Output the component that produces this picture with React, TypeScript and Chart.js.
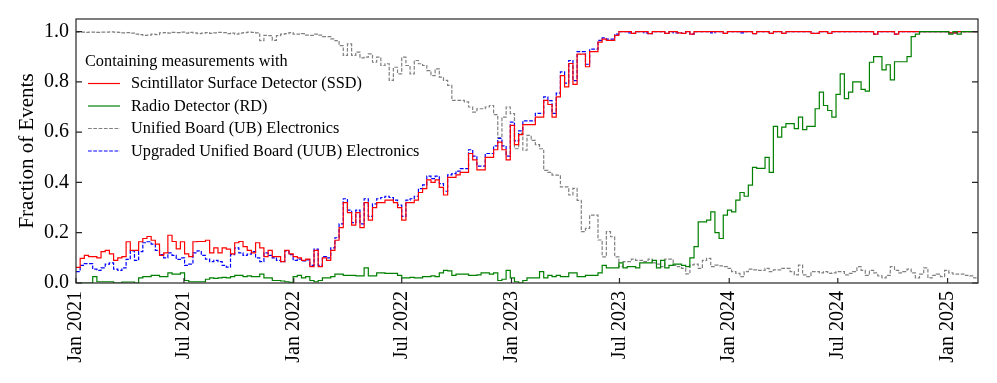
import React, { useEffect, useRef } from 'react';
import { Chart, registerables } from 'chart.js';

Chart.register(...registerables);

const START_DATE = '2021-01-01';
const BIN_DAYS = 7;

const tickDates = ['2021-01-01', '2021-07-01', '2022-01-01', '2022-07-01', '2023-01-01', '2023-07-01', '2024-01-01', '2024-07-01', '2025-01-01'];
const tickLabels = ['Jan 2021', 'Jul 2021', 'Jan 2022', 'Jul 2022', 'Jan 2023', 'Jul 2023', 'Jan 2024', 'Jul 2024', 'Jan 2025'];
const yTicks = [0, 0.2, 0.4, 0.6, 0.8, 1.0];

const legendTitle = 'Containing measurements with';
const seriesNames = [
  'Scintillator Surface Detector (SSD)',
  'Radio Detector (RD)',
  'Unified Board (UB) Electronics',
  'Upgraded Unified Board (UUB) Electronics',
];

// weekly fractions, one value per bin
const ssd = [
  0.062, 0.098, 0.11, 0.105, 0.105, 0.10, 0.125, 0.13, 0.116, 0.09,
  0.10, 0.105, 0.164, 0.13, 0.13, 0.164, 0.177, 0.185, 0.17, 0.155,
  0.11, 0.12, 0.19, 0.165, 0.136, 0.164, 0.116, 0.105, 0.164, 0.165,
  0.165, 0.17, 0.12, 0.14, 0.12, 0.14, 0.135, 0.116, 0.16, 0.165,
  0.145, 0.13, 0.12, 0.16, 0.14, 0.105, 0.13, 0.105, 0.105, 0.085,
  0.13, 0.116, 0.105, 0.10, 0.09, 0.095, 0.065, 0.13, 0.065, 0.10,
  0.09, 0.13, 0.17, 0.22, 0.32, 0.28, 0.23, 0.28, 0.22, 0.32,
  0.25, 0.30, 0.32, 0.32, 0.33, 0.33, 0.32, 0.30, 0.25, 0.32,
  0.32, 0.33, 0.36, 0.375, 0.41, 0.40, 0.41, 0.38, 0.35, 0.42,
  0.42, 0.43, 0.44, 0.44, 0.515, 0.49, 0.45, 0.45, 0.50, 0.50,
  0.53, 0.56, 0.53, 0.49, 0.627, 0.55, 0.59, 0.63, 0.63, 0.63,
  0.66, 0.66, 0.726, 0.71, 0.66, 0.74, 0.825, 0.78, 0.873, 0.79,
  0.91, 0.91, 0.86, 0.92, 0.92, 0.958, 0.97, 0.965, 0.965, 0.985,
  1.0, 1.0, 1.0, 0.993, 1.0, 1.0, 1.0, 0.992, 1.0, 1.0,
  1.0, 0.993, 1.0, 1.0, 0.995, 0.993, 1.0, 0.99, 1.0, 1.0,
  1.0, 1.0, 1.0, 1.0, 1.0, 0.993, 1.0, 1.0, 1.0, 1.0,
  1.0, 1.0, 0.992, 1.0, 1.0, 1.0, 0.993, 1.0, 1.0, 0.993,
  1.0, 1.0, 1.0, 1.0, 1.0, 1.0, 0.993, 0.993, 1.0, 1.0,
  0.993, 1.0, 1.0, 1.0, 1.0, 1.0, 1.0, 1.0, 1.0, 1.0,
  1.0, 0.99, 1.0, 1.0, 1.0, 1.0, 0.99, 1.0, 1.0, 1.0,
  1.0, 1.0, 1.0, 1.0, 1.0, 1.0, 1.0, 1.0, 1.0, 0.995,
  0.995, 1.0, 1.0, 1.0, 1.0, 1.0,
];

const rd = [
  0, 0, 0, 0, 0.025, 0.005, 0.005, 0.005, 0.005, 0,
  0, 0.004, 0.004, 0.004, 0, 0.02, 0.025, 0.025, 0.03, 0.03,
  0.025, 0.025, 0.04, 0.035, 0.035, 0.04, 0.01, 0.005, 0.005, 0.005,
  0.005, 0.015, 0.02, 0.018, 0.02, 0.022, 0.02, 0.025, 0.03, 0.03,
  0.025, 0.028, 0.025, 0.025, 0.035, 0.02, 0.02, 0.01, 0.01, 0.008,
  0.005, 0.003, 0.025, 0.03, 0.02, 0.025, 0.01, 0.005, 0.01, 0.02,
  0.02, 0.025, 0.035, 0.035, 0.03, 0.03, 0.03, 0.028, 0.028, 0.06,
  0.028, 0.028, 0.04, 0.04, 0.038, 0.038, 0.038, 0.03, 0.02, 0.02,
  0.022, 0.02, 0.02, 0.025, 0.025, 0.028, 0.025, 0.04, 0.05, 0.048,
  0.03, 0.035, 0.035, 0.035, 0.03, 0.03, 0.032, 0.04, 0.04, 0.035,
  0.04, 0.01, 0.015, 0.05, 0.02, 0.005, 0.0, 0.01, 0.02, 0.02,
  0.02, 0.045, 0.02, 0.03, 0.025, 0.03, 0.025, 0.025, 0.04, 0.04,
  0.025, 0.025, 0.03, 0.03, 0.03, 0.04, 0.07, 0.06, 0.06, 0.06,
  0.08, 0.06, 0.065, 0.065, 0.06, 0.08, 0.08, 0.08, 0.09, 0.06,
  0.09, 0.06, 0.07, 0.075, 0.075, 0.07, 0.065, 0.10, 0.145, 0.243,
  0.243, 0.25, 0.283, 0.20, 0.177, 0.27, 0.29, 0.283, 0.33, 0.36,
  0.345, 0.389, 0.46, 0.456, 0.456, 0.50, 0.44, 0.623, 0.58, 0.62,
  0.634, 0.634, 0.614, 0.66, 0.61, 0.623, 0.623, 0.693, 0.759, 0.706,
  0.686, 0.66, 0.75, 0.832, 0.733, 0.759, 0.80, 0.80, 0.77, 0.763,
  0.878, 0.90, 0.90, 0.848, 0.868, 0.808, 0.88, 0.88, 0.88, 0.90,
  0.98, 0.99, 1.0, 1.0, 1.0, 1.0, 1.0, 1.0, 1.0, 0.99,
  1.0, 0.99, 1.0, 1.0, 1.0, 1.0,
];

const ub = [
  0.998, 0.998, 0.997, 0.998, 0.998, 0.997, 0.998, 0.998, 0.999, 0.998,
  0.997, 0.995, 0.996, 0.994, 0.99, 0.988, 0.985, 0.986, 0.99, 0.988,
  0.995, 0.996, 0.994, 0.997, 0.996, 0.998, 0.994, 0.997, 0.995, 0.992,
  0.994, 0.996, 0.993, 0.995, 0.997, 0.996, 0.992, 0.994, 0.99, 0.994,
  0.996, 0.998, 0.997, 0.995, 0.964, 0.985, 0.984, 0.965, 0.984, 0.99,
  0.992, 0.996, 0.99, 0.99, 0.992, 0.986, 0.985, 0.99, 0.986, 0.98,
  0.98, 0.971, 0.964, 0.944, 0.905, 0.951, 0.905, 0.918, 0.895, 0.898,
  0.911, 0.878, 0.898, 0.865, 0.872, 0.806, 0.858, 0.832, 0.898, 0.865,
  0.832, 0.885, 0.872, 0.865, 0.845, 0.825, 0.852, 0.819, 0.806, 0.786,
  0.726, 0.726, 0.726, 0.72, 0.70, 0.68, 0.693, 0.693, 0.70, 0.706,
  0.67, 0.578, 0.66, 0.70, 0.674, 0.534, 0.595, 0.528, 0.587, 0.567,
  0.55, 0.534, 0.448, 0.44, 0.429, 0.429, 0.382, 0.382, 0.35, 0.376,
  0.329, 0.204, 0.217, 0.27, 0.27, 0.171, 0.104, 0.204, 0.184, 0.104,
  0.065, 0.085, 0.085, 0.095, 0.09, 0.09, 0.085, 0.095, 0.08, 0.075,
  0.065, 0.095, 0.095, 0.07, 0.065, 0.058, 0.036, 0.072, 0.075, 0.058,
  0.09, 0.098, 0.065, 0.071, 0.068, 0.065, 0.058, 0.045, 0.038, 0.025,
  0.045, 0.055, 0.052, 0.05, 0.05, 0.058, 0.045, 0.052, 0.052, 0.058,
  0.058, 0.045, 0.032, 0.071, 0.032, 0.025, 0.045, 0.045, 0.04, 0.045,
  0.038, 0.04, 0.045, 0.045, 0.032, 0.038, 0.045, 0.065, 0.05, 0.03,
  0.05, 0.04, 0.028, 0.02, 0.03, 0.065, 0.05, 0.04, 0.045, 0.055,
  0.04, 0.02, 0.035, 0.06, 0.02, 0.03, 0.035, 0.025, 0.05, 0.04,
  0.035, 0.035, 0.035, 0.03, 0.028, 0.02,
];

const uub = [
  0.045, 0.07, 0.077, 0.077, 0.055, 0.05, 0.06, 0.075, 0.08, 0.055,
  0.05, 0.06, 0.094, 0.128, 0.09, 0.125, 0.16, 0.164, 0.155, 0.13,
  0.113, 0.10, 0.12, 0.11, 0.094, 0.10, 0.07, 0.075, 0.12, 0.128,
  0.11, 0.095, 0.085, 0.09, 0.085, 0.07, 0.063, 0.113, 0.14, 0.12,
  0.11, 0.115, 0.125, 0.10, 0.085, 0.12, 0.11, 0.10, 0.09, 0.085,
  0.128, 0.113, 0.09, 0.095, 0.088, 0.092, 0.07, 0.135, 0.07, 0.105,
  0.10, 0.14, 0.18, 0.235, 0.335, 0.29, 0.24, 0.29, 0.235, 0.335,
  0.265, 0.315, 0.335, 0.34, 0.345, 0.34, 0.33, 0.31, 0.265, 0.33,
  0.335, 0.345, 0.375, 0.39, 0.425, 0.415, 0.425, 0.395, 0.365, 0.43,
  0.435, 0.445, 0.455, 0.455, 0.53, 0.505, 0.465, 0.465, 0.515, 0.515,
  0.545, 0.575, 0.545, 0.505, 0.64, 0.565, 0.605, 0.645, 0.645, 0.645,
  0.675, 0.675, 0.74, 0.725, 0.675, 0.755, 0.84, 0.795, 0.885, 0.805,
  0.92, 0.92, 0.87, 0.93, 0.93, 0.965, 0.975, 0.97, 0.97, 0.99,
  1.0, 1.0, 0.995, 0.993, 1.0, 1.0, 0.995, 0.992, 1.0, 1.0,
  1.0, 0.993, 1.0, 0.995, 0.995, 0.993, 1.0, 0.99, 1.0, 1.0,
  1.0, 1.0, 0.995, 1.0, 1.0, 0.993, 1.0, 1.0, 1.0, 0.995,
  1.0, 1.0, 0.992, 1.0, 1.0, 1.0, 0.993, 1.0, 1.0, 0.993,
  1.0, 1.0, 1.0, 1.0, 1.0, 1.0, 0.993, 0.993, 1.0, 1.0,
  0.993, 1.0, 1.0, 1.0, 1.0, 1.0, 1.0, 1.0, 1.0, 1.0,
  1.0, 0.99, 1.0, 1.0, 1.0, 1.0, 0.99, 1.0, 1.0, 1.0,
  1.0, 1.0, 1.0, 1.0, 1.0, 1.0, 1.0, 1.0, 1.0, 0.995,
  0.995, 1.0, 1.0, 1.0, 1.0, 1.0,
];

const FONT = "'Liberation Serif', 'Times New Roman', serif";

function dayOffset(s: string): number {
  const [y0, m0, d0] = START_DATE.split('-').map(Number);
  const [y, m, d] = s.split('-').map(Number);
  return (Date.UTC(y, m - 1, d) - Date.UTC(y0, m0 - 1, d0)) / 86400000;
}

function toSteps(values: number[]) {
  const pts = values.map((v, i) => ({ x: i * BIN_DAYS, y: v }));
  pts.push({ x: values.length * BIN_DAYS, y: values[values.length - 1] });
  return pts;
}

const tickDays = tickDates.map(dayOffset);

const framePlugin = {
  id: 'frameTicks',
  afterDatasetsDraw(chart: any) {
    const { ctx, chartArea } = chart;
    const { left, right, top, bottom } = chartArea;
    ctx.save();
    ctx.strokeStyle = '#262626';
    ctx.lineWidth = 1.2;
    ctx.strokeRect(left, top, right - left, bottom - top);
    const ys = chart.scales.y;
    ys.ticks.forEach((t: any) => {
      const py = ys.getPixelForValue(t.value);
      ctx.beginPath();
      ctx.moveTo(left, py);
      ctx.lineTo(left + 6, py);
      ctx.moveTo(right, py);
      ctx.lineTo(right - 6, py);
      ctx.stroke();
    });
    const xs = chart.scales.x;
    xs.ticks.forEach((t: any) => {
      const px = xs.getPixelForValue(t.value);
      ctx.beginPath();
      ctx.moveTo(px, bottom);
      ctx.lineTo(px, bottom - 5);
      ctx.stroke();
    });
    ctx.restore();
  },
};

const legendPlugin = {
  id: 'innerLegend',
  afterDraw(chart: any) {
    const { ctx } = chart;
    ctx.save();
    ctx.font = `16.3px ${FONT}`;
    ctx.fillStyle = '#000';
    ctx.textBaseline = 'middle';
    ctx.textAlign = 'left';
    ctx.fillText(legendTitle, 85, 62);
    const rows = [83.5, 106, 128.5, 151];
    chart.data.datasets.forEach((ds: any, i: number) => {
      const y = rows[i];
      ctx.beginPath();
      ctx.strokeStyle = ds.borderColor;
      ctx.lineWidth = ds.borderWidth;
      ctx.setLineDash(ds.borderDash || []);
      ctx.moveTo(88, y);
      ctx.lineTo(120, y);
      ctx.stroke();
      ctx.setLineDash([]);
      ctx.fillText(ds.label, 131, y + 0.5);
    });
    ctx.restore();
  },
};

export default function App() {
  const ref = useRef<HTMLCanvasElement | null>(null);

  useEffect(() => {
    if (!ref.current) return;
    const common = { pointRadius: 0, stepped: true, fill: false, tension: 0, borderWidth: 1.2 };
    const chart = new Chart(ref.current, {
      type: 'line',
      data: {
        datasets: [
          { ...common, label: seriesNames[0], data: toSteps(ssd), borderColor: '#ff0000', order: 1 },
          { ...common, label: seriesNames[1], data: toSteps(rd), borderColor: '#008000', order: 0 },
          { ...common, label: seriesNames[2], data: toSteps(ub), borderColor: '#808080', borderDash: [3.7, 1.6], order: 3 },
          { ...common, label: seriesNames[3], data: toSteps(uub), borderColor: '#0000ff', borderDash: [3.7, 1.6], order: 2 },
        ],
      },
      options: {
        responsive: false,
        devicePixelRatio: 1,
        animation: false,
        layout: { padding: { top: 18, right: 19, left: 0, bottom: 0 } },
        plugins: { legend: { display: false }, tooltip: { enabled: false } },
        scales: {
          x: {
            type: 'linear',
            min: 0,
            max: ssd.length * BIN_DAYS,
            grid: { display: false, drawTicks: false },
            border: { display: false },
            afterBuildTicks: (scale: any) => {
              scale.ticks = tickDays.map((v) => ({ value: v }));
            },
            afterFit: (scale: any) => {
              scale.height = 100;
            },
            ticks: {
              autoSkip: false,
              minRotation: 90,
              maxRotation: 90,
              padding: 8,
              color: '#000',
              font: { family: FONT, size: 20 },
              callback: (_v: any, i: number) => tickLabels[i],
            },
          },
          y: {
            type: 'linear',
            min: 0,
            max: 1.05,
            grid: { display: false, drawTicks: false },
            border: { display: false },
            afterBuildTicks: (scale: any) => {
              scale.ticks = yTicks.map((v) => ({ value: v }));
            },
            afterFit: (scale: any) => {
              scale.width = 76;
            },
            ticks: {
              padding: 7,
              color: '#000',
              font: { family: FONT, size: 20 },
              callback: (v: any) => Number(v).toFixed(1),
            },
            title: {
              display: true,
              text: 'Fraction of Events',
              color: '#000',
              font: { family: FONT, size: 21, lineHeight: 1.2 },
              padding: { top: 15, bottom: 0 },
            },
          },
        },
      },
      plugins: [framePlugin, legendPlugin],
    } as any);
    return () => chart.destroy();
  }, []);

  return (
    <div style={{ position: 'absolute', left: 0, top: 0, width: 997, height: 383, background: '#fff' }}>
      <canvas ref={ref} width={997} height={383} style={{ display: 'block', width: 997, height: 383 }} />
    </div>
  );
}
